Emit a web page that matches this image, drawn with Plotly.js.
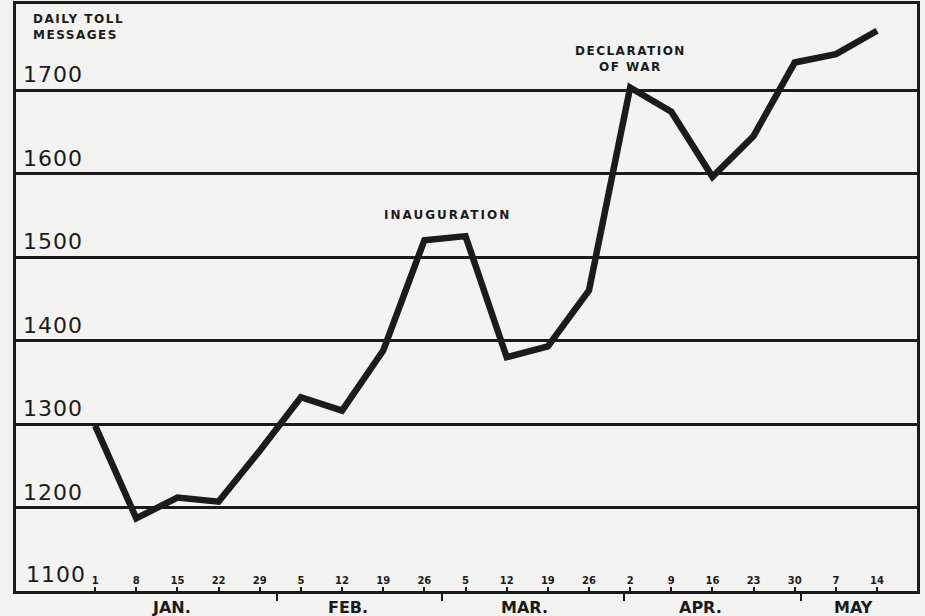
<!DOCTYPE html>
<html>
<head>
<meta charset="utf-8">
<script src="https://cdn.plot.ly/plotly-3.0.1.min.js"></script>
<style>
  html, body { margin: 0; padding: 0; background: #f3f3f1; }
  #chart { width: 925px; height: 616px; }
</style>
</head>
<body>
<div id="chart"></div>
<script>
// Weekly dates (1917) and daily toll messages
const dates = ['1917-01-01','1917-01-08','1917-01-15','1917-01-22','1917-01-29',
               '1917-02-05','1917-02-12','1917-02-19','1917-02-26',
               '1917-03-05','1917-03-12','1917-03-19','1917-03-26',
               '1917-04-02','1917-04-09','1917-04-16','1917-04-23','1917-04-30',
               '1917-05-07','1917-05-14'];
const dayLabels = ['1','8','15','22','29','5','12','19','26','5','12','19','26','2','9','16','23','30','7','14'];
const tolls = [1298,1187,1212,1207,1268,1332,1316,1388,1520,1525,1380,1393,1460,1703,1674,1596,1645,1733,1743,1771];

const yTicks = [1100,1200,1300,1400,1500,1600,1700];
const yTickText = ['1100','1200','1300','1400','1500','1600','1700'];

const monthNames = ['JAN.','FEB.','MAR.','APR.','MAY'];
const monthLabelDates = ['1917-01-14','1917-02-13','1917-03-15','1917-04-14','1917-05-10'];
const monthStarts = ['1917-02-01','1917-03-01','1917-04-01','1917-05-01'];

const ink = '#1b1b1b';
const spaced = (t, s) => '<span style="letter-spacing:' + s + 'px">' + t + '</span>';

const trace = {
  x: dates, y: tolls, type: 'scatter', mode: 'lines',
  line: { color: ink, width: 6.5 },
  hoverinfo: 'skip'
};

const annotations = monthNames.map((m, i) => ({
  x: monthLabelDates[i], xref: 'x', y: 0, yref: 'paper',
  yanchor: 'middle', xanchor: 'center', yshift: -16,
  text: '<b>' + m + '</b>', showarrow: false,
  font: { family: 'DejaVu Sans', size: 16, color: ink }
}));

// lowest y label (drawn as annotation so it is not hidden by the inside x labels)
annotations.push({
  x: 0, xref: 'paper', y: yTicks[0], yref: 'y', xanchor: 'left', yanchor: 'bottom',
  xshift: 8, yshift: 2, showarrow: false,
  text: spaced(yTickText[0], 1),
  font: { family: 'DejaVu Sans', size: 22, color: ink }
});

annotations.push({
  x: 0.017, xref: 'paper', y: 0.99, yref: 'paper', xanchor: 'left', yanchor: 'top',
  align: 'left', showarrow: false,
  text: spaced('<b>DAILY TOLL<br>MESSAGES</b>', 1.5),
  font: { family: 'DejaVu Sans', size: 12, color: ink }
});
annotations.push({
  x: '1917-03-02', xref: 'x', y: 1550, yref: 'y', xanchor: 'center', yanchor: 'middle',
  showarrow: false,
  text: spaced('<b>INAUGURATION</b>', 2),
  font: { family: 'DejaVu Sans', size: 12, color: ink }
});
annotations.push({
  x: '1917-04-02', xref: 'x', y: 1737, yref: 'y', xanchor: 'center', yanchor: 'middle',
  showarrow: false,
  text: spaced('<b>DECLARATION<br>OF WAR</b>', 1.5),
  font: { family: 'DejaVu Sans', size: 12, color: ink }
});

const layout = {
  width: 925, height: 616,
  margin: { l: 16, r: 8, t: 4, b: 25 },
  paper_bgcolor: '#f3f3f1', plot_bgcolor: '#f3f3f1',
  showlegend: false,
  xaxis: {
    type: 'date',
    range: ['1916-12-18 13:00', '1917-05-20 19:00'],
    tickmode: 'array', tickvals: dates, ticktext: dayLabels,
    ticks: 'inside', ticklen: 4, tickwidth: 2, tickcolor: ink,
    ticklabelposition: 'inside',
    tickfont: { family: 'DejaVu Sans', size: 10, color: ink, weight: 'bold' },
    showgrid: false, zeroline: false,
    showline: true, mirror: true, linewidth: 3, linecolor: ink,
    minor: { tickmode: 'array', tickvals: monthStarts, ticks: 'outside', ticklen: 7, tickwidth: 2, tickcolor: ink, showgrid: false },
    fixedrange: true
  },
  yaxis: {
    range: [1100, 1803],
    tickmode: 'array', tickvals: yTicks.slice(1), ticktext: yTickText.slice(1).map(t => spaced(t, 1)),
    ticks: '', ticklabelposition: 'inside top', ticklabelstandoff: 7,
    tickfont: { family: 'DejaVu Sans', size: 22, color: ink },
    showgrid: true, gridcolor: ink, gridwidth: 3,
    zeroline: false,
    showline: true, mirror: true, linewidth: 3, linecolor: ink,
    fixedrange: true
  },
  annotations: annotations
};

Plotly.newPlot('chart', [trace], layout, { displayModeBar: false, staticPlot: true });
</script>
</body>
</html>
